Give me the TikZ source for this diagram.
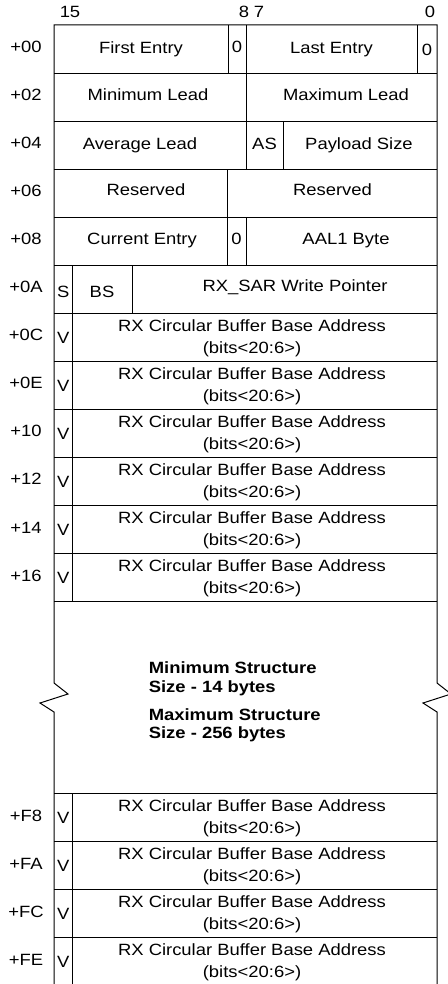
\documentclass[tikz,border=0pt]{standalone}
\usepackage{fontspec}
\setmainfont{Liberation Sans}[FakeStretch=1.13]
\begin{document}
\begin{tikzpicture}[x=1pt,y=-1pt,line width=1pt,
  cell/.style={anchor=base,inner sep=0pt,font=\fontsize{16.3}{19}\selectfont},
  note/.style={anchor=base west,inner sep=0pt,font=\fontsize{16.3}{19}\selectfont\bfseries}]
\useasboundingbox (0,0) rectangle (447,984);
% outer frame with break marks
\draw (54,984) -- (54,712) -- (40,703) -- (68,694) -- (54,683) -- (54,25)
   -- (437,25) -- (437,683) -- (451,694) -- (423,703) -- (437,712) -- (437,984);
% horizontal row lines
\foreach \y in {73.05,121.1,169.15,217.2,265.25,313.3,361.35,409.4,457.45,505.5,553.55,601.6,793.8,841.85,889.9,937.95}
  \draw (54,\y) -- (437,\y);
% interior verticals
\draw (228,25) -- (228,73.05);
\draw (246,25) -- (246,169.15);
\draw (417,25) -- (417,73.05);
\draw (283,121.1) -- (283,169.15);
\draw (227,169.15) -- (227,265.25);
\draw (246,217.2) -- (246,265.25);
\draw (72.5,265.25) -- (72.5,601.6);
\draw (132,265.25) -- (132,313.3);
\draw (72.5,793.8) -- (72.5,984);
% bit numbers
\node[cell] (b15) at (70,18) {15};
\node[cell] (b8) at (244,18) {8};
\node[cell] (b7) at (259,18) {7};
\node[cell] (b0) at (430,18) {0};
% offsets of the fixed rows
\node[cell] (o00) at (26,52.5) {+00};
\node[cell] (o02) at (26,100.55) {+02};
\node[cell] (o04) at (26,148.6) {+04};
\node[cell] (o06) at (26,196.65) {+06};
\node[cell] (o08) at (26,244.7) {+08};
\node[cell] (o0A) at (26,292.75) {+0A};
% row +00
\node[cell] (first) at (141,53.5) {First Entry};
\node[cell] (z1) at (237,53) {0};
\node[cell] (last) at (331.5,53.5) {Last Entry};
\node[cell] (z2) at (427,56) {0};
% row +02
\node[cell] (minl) at (148,101) {Minimum Lead};
\node[cell] (maxl) at (346,101) {Maximum Lead};
% row +04
\node[cell] (avgl) at (140,149.5) {Average Lead};
\node[cell] (as) at (264.5,149.5) {AS};
\node[cell] (pay) at (359,149.5) {Payload Size};
% row +06
\node[cell] (res1) at (146,196) {Reserved};
\node[cell] (res2) at (332.5,196) {Reserved};
% row +08
\node[cell] (cur) at (142,244) {Current Entry};
\node[cell] (z3) at (236.5,244) {0};
\node[cell] (aal) at (346,244) {AAL1 Byte};
% row +0A
\node[cell] (s) at (63.3,297.5) {S};
\node[cell] (bs) at (102,297.5) {BS};
\node[cell] (wp) at (295,291) {RX\_SAR Write Pointer};
% buffer address rows
\foreach \t/\lab [count=\i] in {313.3/+0C,361.35/+0E,409.4/+10,457.45/+12,505.5/+14,553.55/+16,793.8/+F8,841.85/+FA,889.9/+FC,937.95/+FE}{
  \node[cell] (off\i) at (26,\t+27.5) {\lab};
  \node[cell] (v\i) at (63.3,\t+30) {V};
  \node[cell] (ra\i) at (252,\t+18) {RX Circular Buffer Base Address};
  \node[cell] (rb\i) at (252,\t+40) {(bits<20:6>)};
}
% size notes
\node[note] (n1) at (148.3,673) {Minimum Structure};
\node[note] (n2) at (148.3,692) {Size - 14 bytes};
\node[note] (n3) at (148.3,720) {Maximum Structure};
\node[note] (n4) at (148.3,738) {Size - 256 bytes};
\end{tikzpicture}
\end{document}
